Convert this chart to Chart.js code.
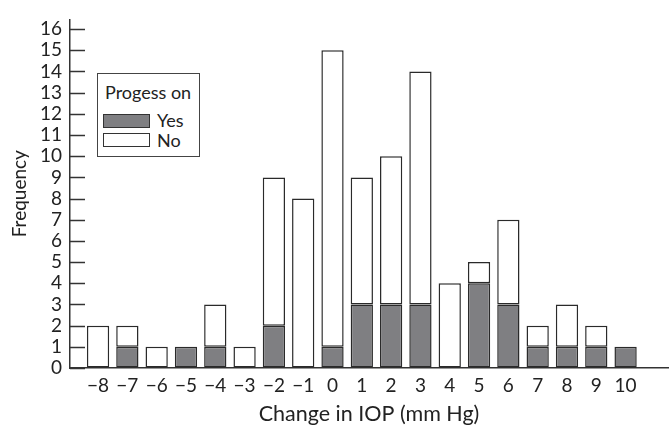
<!DOCTYPE html>
<html>
<head>
<meta charset="utf-8">
<script src="https://cdn.jsdelivr.net/npm/chart.js@4/dist/chart.umd.min.js"></script>
<style>
  html, body { margin: 0; padding: 0; background: #fff; }
  #wrap { position: relative; width: 670px; height: 427px; }
  #legend {
    position: absolute; left: 97px; top: 73px; width: 101px; height: 82px;
    border: 1.5px solid #444; background: #fff; font-family: Lato, sans-serif;
    color: #222; font-size: 18px;
  }
  #legend .title { position: absolute; left: 7px; top: 7px; line-height: 22px; }
  #legend .sw { position: absolute; left: 5px; width: 45px; height: 12px; border: 1.2px solid #333; }
  #legend .lab { position: absolute; left: 59px; line-height: 20px; }
</style>
</head>
<body>
<div id="wrap">
  <canvas id="c"></canvas>
  <div id="legend">
    <div class="title">Progess on</div>
    <div class="sw" style="top:40px; background:#7f7f82;"></div>
    <div class="lab" style="top:36px;">Yes</div>
    <div class="sw" style="top:59px; background:#fff;"></div>
    <div class="lab" style="top:56px;">No</div>
  </div>
</div>
<script>
// Data
const changeIOP = [-8, -7, -6, -5, -4, -3, -2, -1, 0, 1, 2, 3, 4, 5, 6, 7, 8, 9, 10];
const progressYes = [0, 1, 0, 1, 1, 0, 2, 0, 1, 3, 3, 3, 0, 4, 3, 1, 1, 1, 1];
const progressNo  = [2, 1, 1, 0, 2, 1, 7, 8, 14, 6, 7, 11, 4, 1, 4, 1, 2, 1, 0];
const yTickValues = [0,1,2,3,4,5,6,7,8,9,10,11,12,13,14,15,16];

const FONT = 'Lato, sans-serif';
const toPoints = arr => changeIOP.map((x, i) => ({ x: x, y: arr[i] === 0 ? null : arr[i] }));

const innerTicks = {
  id: 'innerTicks',
  afterDatasetsDraw(chart) {
    const { ctx, scales: { y }, chartArea } = chart;
    ctx.save();
    ctx.strokeStyle = '#333';
    ctx.lineWidth = 1.5;
    yTickValues.forEach(v => {
      const py = Math.round(y.getPixelForValue(v)) + 0.5;
      ctx.beginPath();
      ctx.moveTo(chartArea.left, py);
      ctx.lineTo(chartArea.left + 15, py);
      ctx.stroke();
    });
    ctx.restore();
  }
};

new Chart(document.getElementById('c'), {
  type: 'bar',
  data: {
    datasets: [
      {
        label: 'Yes',
        data: toPoints(progressYes),
        backgroundColor: '#7f7f82',
        borderColor: '#2a2a2a',
        borderWidth: 1.5,
        borderSkipped: false,
        barPercentage: 0.76,
        categoryPercentage: 1
      },
      {
        label: 'No',
        data: toPoints(progressNo),
        backgroundColor: '#ffffff',
        borderColor: '#2a2a2a',
        borderWidth: 1.5,
        borderSkipped: false,
        barPercentage: 0.76,
        categoryPercentage: 1
      }
    ]
  },
  options: {
    responsive: true,
    maintainAspectRatio: false,
    animation: false,
    layout: { padding: { top: 13, right: 2, left: 0, bottom: 0 } },
    plugins: { legend: { display: false }, tooltip: { enabled: false } },
    scales: {
      x: {
        type: 'linear',
        stacked: true,
        min: -8.42,
        max: 10.91,
        afterBuildTicks: s => { s.ticks = changeIOP.map(v => ({ value: v })); },
        afterFit: s => { s.height = 59; },
        grid: { display: true, drawOnChartArea: false, drawTicks: false },
        border: { display: true, color: '#333', width: 1.5 },
        ticks: {
          autoSkip: false,
          maxRotation: 0,
          padding: 6,
          color: '#222',
          font: { family: FONT, size: 19 },
          callback: v => (v < 0 ? '\u2212' + Math.abs(v) : String(v))
        },
        title: {
          display: true,
          text: 'Change in IOP (mm Hg)',
          color: '#222',
          font: { family: FONT, size: 21.5 },
          padding: { top: 0, bottom: 0 }
        }
      },
      y: {
        stacked: true,
        min: 0,
        max: 16.46,
        afterBuildTicks: s => { s.ticks = yTickValues.map(v => ({ value: v })); },
        afterFit: s => { s.width = 70; },
        grid: { display: true, drawOnChartArea: false, drawTicks: false },
        border: { display: true, color: '#333', width: 1.5 },
        ticks: {
          autoSkip: false,
          padding: 8,
          color: '#222',
          font: { family: FONT, size: 19 }
        },
        title: {
          display: true,
          text: 'Frequency',
          color: '#222',
          font: { family: FONT, size: 19 },
          padding: { top: 8, bottom: 0 }
        }
      }
    }
  },
  plugins: [innerTicks]
});
</script>
</body>
</html>
